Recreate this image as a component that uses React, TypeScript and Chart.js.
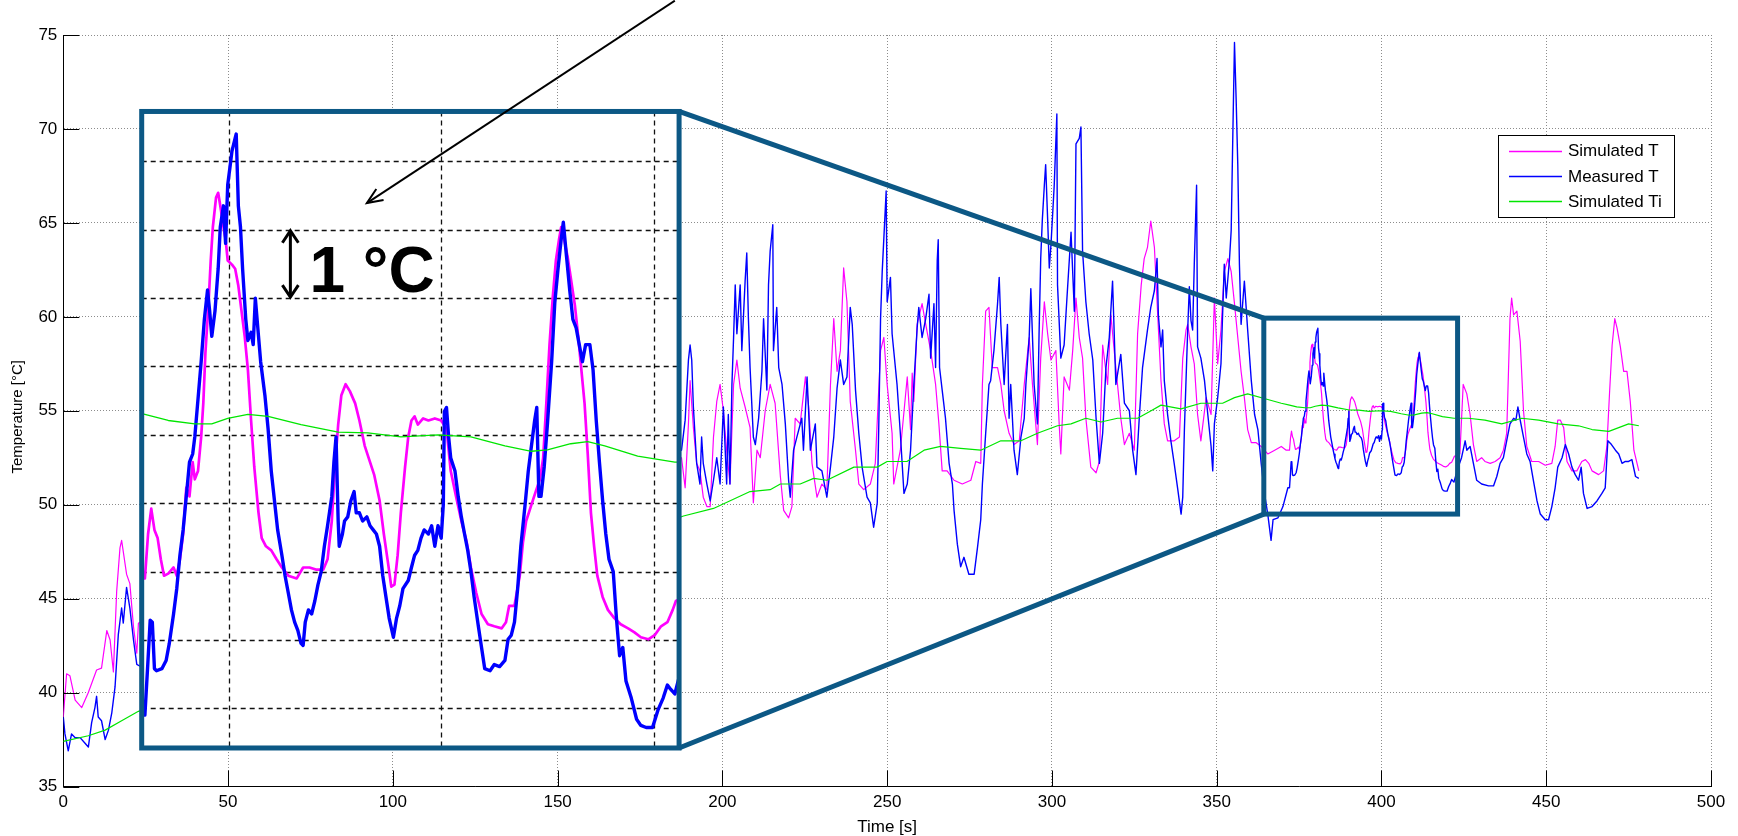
import React, { useEffect, useRef } from 'react';
import { Chart, registerables } from 'chart.js';

Chart.register(...registerables);

type Pt = [number, number];

const FONT = "'Liberation Sans', Arial, Helvetica, sans-serif";

const X_MIN = 0;
const X_MAX = 500;
const X_STEP = 50;
const Y_MIN = 35;
const Y_MAX = 75;
const Y_STEP = 5;
const X_LABEL = 'Time [s]';
const Y_LABEL = 'Temperature [°C]';
const SERIES_NAMES = ['Simulated T', 'Measured T', 'Simulated Ti'];
const SERIES_COLORS = ['#ff00ff', '#0000ff', '#00e600'];

// Simulated T  [time s, °C]
const simulatedT: Pt[] = [
  [0, 38.7], [1.0, 41.0], [2.0, 40.9], [3.6, 39.6], [5.6, 39.2], [7.6, 40.0], [10.1, 41.2], [11.6, 41.3],
  [13.2, 43.3], [14.2, 42.8], [15.2, 41.1], [16.2, 45.4], [17.2, 47.7], [17.7, 48.1], [19.2, 46.3], [20.2, 45.8],
  [21.3, 43.5], [22.3, 42.1], [22.8, 43.7],
  [187.6, 52.5], [188.7, 50.9], [189.7, 54.3], [190.2, 56.6], [191.2, 54.1], [192.2, 52.2], [193.2, 51.8],
  [194.2, 50.4], [195.3, 49.9], [196.3, 49.9], [197.3, 53.6], [198.3, 55.5], [199.3, 56.4], [200.3, 55.0],
  [201.3, 52.9], [202.3, 51.1], [203.4, 56.4], [204.4, 57.7], [205.4, 56.2], [206.9, 55.2], [208.4, 54.1],
  [209.4, 50.1], [210.5, 52.9], [211.5, 52.5], [213, 55.0], [214.5, 56.4], [216, 55.4], [217.6, 51.5],
  [218.6, 49.7], [220.1, 49.3], [221.1, 49.9], [222.1, 54.6], [223.6, 54.3], [225.2, 56.8], [226.2, 55.2],
  [227.2, 52.2], [228.7, 50.4], [230.2, 51.1], [231.7, 50.8], [232.8, 56.4], [233.8, 59.9], [234.8, 57.1],
  [235.8, 58.2], [236.8, 62.6], [237.8, 60.8], [238.8, 55.5], [240.4, 52.9], [241.4, 51.1], [242.9, 50.8],
  [244.9, 51.1], [246.4, 52.2], [248, 58.2], [249, 58.9], [250, 56.4], [251.5, 53.8], [252, 51.1], [254, 52.9],
  [256.1, 56.8], [257.1, 54.0], [257.6, 57.0], [258.1, 55.5], [259.1, 59.6], [260.6, 60.7], [261.7, 59.6],
  [263.2, 58.2], [264.7, 56.4], [265.7, 54.3], [266.7, 51.8], [268.2, 51.8], [270.3, 51.3], [272.8, 51.1],
  [275.4, 51.3], [276.9, 52.3], [278.4, 52.2], [278.9, 56.4], [279.9, 60.3], [280.9, 60.5], [281.9, 57.3],
  [283.5, 57.3], [284.5, 56.4], [285.5, 55.0], [287, 53.8], [288.5, 53.2], [290.1, 53.4], [291.6, 56.4],
  [293.1, 58.9], [294.1, 56.4], [295.6, 53.2], [296.6, 57.8], [297.7, 60.8], [298.7, 59.1], [299.7, 57.7],
  [301.2, 58.2], [302.2, 54.3], [302.7, 52.7], [303.7, 56.8], [305.3, 56.1], [306.3, 58.2], [307.3, 61.0],
  [308.3, 58.9], [309.3, 57.8], [310.3, 54.6], [311.8, 52.0], [313.4, 51.7], [314.4, 52.3], [315.4, 58.5],
  [316.9, 56.4], [317.9, 60.1], [318.9, 58.2], [319.9, 56.4], [320.9, 54.6], [322, 53.2], [323.5, 53.8],
  [325, 52.9], [326, 59.1], [327.1, 61.7], [328, 63.1], [329, 63.7], [330, 65.1], [331.1, 63.7], [332.1, 60.1],
  [333.1, 56.6], [334.1, 54.3], [335.1, 53.4], [337.1, 53.4], [338.7, 53.6], [339.7, 57.8], [340.7, 59.3],
  [341.2, 59.6], [342.2, 58.4], [343.2, 57.5], [344.2, 54.8], [345.2, 53.4], [346.8, 55.7], [348.3, 54.8],
  [349.3, 61.0], [350.3, 57.5], [351.3, 59.3], [352.3, 62.4], [353.4, 63.1], [354.4, 62.4], [355.4, 60.7],
  [356.4, 58.9], [357.4, 57.1], [358.4, 55.7], [359.4, 54.0], [360.5, 53.3], [362, 53.3], [363.5, 53.1],
  [365.5, 52.7], [367.6, 52.9], [369.6, 53.1], [371.1, 52.9],
  [372.1, 52.9], [372.4, 53.55], [372.7, 53.92], [373.0, 53.61], [373.3, 53.49], [373.6, 53.18], [373.9, 52.94],
  [374.3, 52.97], [374.8, 53.06], [375.1, 52.94], [375.4, 53.18], [375.7, 53.55], [376.0, 54.23], [376.3, 54.1],
  [376.6, 54.6], [376.8, 54.35], [377.1, 54.47], [377.4, 54.97], [377.6, 55.46], [377.8, 56.2], [378.1, 56.94],
  [378.3, 57.55], [378.5, 58.04], [378.8, 58.47], [379.0, 58.54], [379.2, 58.35], [379.5, 58.04], [379.7, 57.86],
  [379.9, 57.55], [380.3, 57.49], [380.6, 57.43], [380.9, 57.18], [381.2, 56.81], [381.5, 56.44], [381.8, 55.95],
  [382.1, 55.21], [382.4, 54.53], [382.8, 53.86], [383.1, 53.49], [383.5, 53.37], [384.0, 53.31], [384.5, 53.18],
  [385.0, 53.06], [385.6, 52.94], [386.4, 52.9], [387.0, 53.06], [387.6, 53.06], [388.2, 53.03], [388.9, 53.03],
  [389.3, 53.18], [389.7, 53.74], [390.0, 54.53], [390.3, 55.15], [390.6, 55.58], [391.0, 55.74], [391.4, 55.64],
  [391.9, 55.46], [392.3, 55.21], [392.8, 54.84], [393.3, 54.6], [393.7, 54.41], [394.2, 54.04], [394.6, 53.55],
  [395.0, 53.12], [395.3, 52.78], [395.6, 52.81], [395.9, 53.24], [396.2, 53.86], [396.6, 54.53], [396.9, 54.97],
  [397.2, 55.21], [397.5, 55.27], [397.8, 55.15], [398.3, 55.24], [398.8, 55.21], [399.4, 55.24], [400.0, 55.21],
  [400.5, 55.09], [400.9, 54.47], [401.4, 54.1], [401.9, 53.74], [402.4, 53.43], [402.8, 53.06], [403.3, 52.69],
  [403.8, 52.38], [404.4, 52.23], [405.0, 52.2], [405.7, 52.17], [406.1, 52.26], [406.4, 52.5], [406.9, 52.5],
  [407.4, 52.94], [407.7, 53.43], [408.0, 53.74], [408.5, 53.98], [408.9, 54.17], [409.3, 54.35], [409.6, 54.66],
  [409.9, 55.46], [410.2, 56.32], [410.5, 57.0], [410.8, 57.55], [411.1, 57.86], [411.3, 58.04], [411.5, 57.92],
  [411.9, 57.61], [412.2, 57.3], [412.6, 56.88], [412.9, 56.44], [413.2, 55.95], [413.5, 55.46], [413.8, 54.72],
  [414.1, 53.86], [414.4, 53.37], [414.7, 52.94], [415.2, 52.63], [415.7, 52.44], [416.3, 52.32], [416.9, 52.23],
  [417.6, 52.17], [418.2, 52.11], [418.8, 52.04], [419.5, 52.01], [420.1, 52.07], [420.7, 52.2], [421.3, 52.26],
  [421.8, 52.44], [422.1, 52.57],
  [423.8, 52.7], [424.8, 56.4], [425.9, 55.9], [426.9, 54.8], [427.9, 53.2], [428.9, 52.3], [430.4, 52.5],
  [431.4, 52.3], [433, 52.2], [434.5, 52.3], [436, 52.5], [437, 52.9], [438, 53.8], [438.5, 56.8], [439, 59.9],
  [439.5, 61.0], [440.1, 60.1], [441.1, 60.3], [442.1, 58.7], [443.1, 55.0], [444.1, 53.1], [445.6, 52.3],
  [447.7, 52.3], [449.7, 52.1], [451.7, 52.2], [452.7, 53.1], [453.5, 54.5], [454.3, 54.5], [455.3, 54.1],
  [456.3, 52.3], [457.8, 51.8], [459.3, 51.8], [460.8, 52.3], [461.9, 52.4], [462.9, 52.2], [463.9, 51.8],
  [465.9, 51.6], [467.4, 51.8], [468.4, 53.1], [469.2, 55.9], [470, 58.5], [470.8, 59.9], [471.5, 59.4],
  [472.5, 58.4], [473.5, 57.1], [474.5, 57.1], [475.5, 55.5], [476.6, 52.9], [478.1, 51.8],
];

// Measured T  [time s, °C]
const measuredT: Pt[] = [
  [0, 38.7], [0.5, 37.8], [1.5, 36.9], [2.5, 37.8], [3.6, 37.6], [5.1, 37.6], [6.6, 37.3], [7.6, 37.1],
  [8.6, 38.4], [9.6, 39.2], [10.1, 39.8], [10.6, 38.7], [11.6, 38.5], [12.7, 37.5], [13.7, 38.0], [14.7, 38.9],
  [15.7, 40.3], [16.7, 43.1], [17.7, 44.5], [18.2, 43.7], [19.2, 45.6], [20.2, 44.5], [21.3, 42.8], [22.3, 41.5],
  [23.3, 41.4],
  [187.6, 52.9], [188.7, 54.5], [189.7, 57.7], [190.2, 58.5], [190.7, 57.7], [191.2, 55.2], [192.2, 52.2],
  [193.2, 51.1], [193.7, 53.6], [194.2, 52.2], [195.3, 51.1], [196.3, 50.2], [197.3, 51.3], [198.3, 52.5],
  [199.3, 51.1], [200.3, 55.2], [201.3, 51.1], [201.8, 54.8], [202.3, 51.1], [202.9, 56.4], [203.4, 58.9],
  [203.9, 61.7], [204.4, 59.1], [205.4, 61.7], [205.9, 58.2], [206.9, 61.9], [207.4, 63.4], [207.9, 59.9],
  [208.4, 57.3], [209.4, 53.6], [210, 53.2], [211, 54.6], [212, 57.1], [212.5, 59.9], [213.5, 56.1], [214, 61.7],
  [214.5, 63.5], [215.3, 64.9], [215.5, 58.2], [216.5, 60.5], [217.1, 57.3], [218.1, 56.4], [219.1, 54.3],
  [220.1, 51.3], [220.6, 50.4], [221.6, 52.9], [222.6, 53.6], [224.1, 54.6], [224.6, 52.9], [225.7, 56.8],
  [226.7, 52.9], [228.2, 54.3], [228.7, 52.0], [230.2, 51.8], [231.7, 50.4], [232.8, 52.0], [233.8, 53.6],
  [234.8, 56.2], [235.8, 57.7], [236.8, 56.4], [237.8, 56.8], [238.8, 60.5], [239.4, 59.6], [240.4, 56.1],
  [241.4, 53.8], [242.4, 52.0], [243.9, 50.4], [244.9, 50.1], [245.9, 48.8], [247, 50.1], [247.5, 54.6],
  [248, 59.9], [248.5, 62.4], [249.7, 66.7], [250, 60.8], [251, 62.1], [251.5, 59.1], [253, 56.4], [254, 53.8],
  [255.1, 50.6], [256.1, 51.1], [257.1, 52.9], [258.1, 56.4], [259.1, 59.4], [259.6, 60.5], [260.6, 58.9],
  [261.7, 59.9], [262.7, 61.2], [263.2, 57.8], [264.2, 60.7], [264.7, 57.3], [265.2, 63.0], [265.5, 64.1],
  [265.9, 57.3], [266.7, 56.1], [267.7, 54.6], [268.8, 52.2], [269.8, 51.1], [270.3, 49.7], [271.3, 47.9],
  [272.3, 46.7], [273.3, 47.2], [274.8, 46.3], [276.4, 46.3], [277.4, 47.7], [278.4, 49.2], [278.9, 51.1],
  [279.9, 53.8], [280.9, 56.4], [281.4, 56.6], [282.4, 58.2], [283.5, 60.7], [284, 62.1], [284.5, 59.6],
  [285.5, 56.4], [286.5, 59.6], [287, 54.6], [287.5, 56.4], [288.5, 52.9], [289.5, 51.6], [290.6, 53.6],
  [291.6, 54.6], [292.1, 56.4], [293.1, 58.9], [293.6, 61.5], [294.6, 56.4], [295.6, 54.3], [296.1, 59.1],
  [296.6, 63.1], [297.1, 65.2], [297.7, 67.0], [298.1, 68.1], [298.7, 65.2], [299.2, 62.6], [299.7, 63.8],
  [300.7, 67.0], [301.5, 70.8], [301.7, 61.7], [302.7, 57.8], [303.7, 58.5], [304.7, 61.4], [305.8, 64.5],
  [306.8, 60.3], [307.3, 69.2], [308.3, 69.5], [308.8, 70.1], [309.3, 63.5], [310.3, 60.8], [311.3, 59.1],
  [312.4, 57.7], [313.4, 54.6], [314.4, 52.2], [315.4, 53.8], [316.4, 57.3], [317.4, 58.9], [318.4, 61.9],
  [319.4, 56.4], [320.9, 58.0], [322, 55.4], [323.5, 55.0], [324.5, 52.9], [325.5, 51.6], [326.5, 54.6],
  [327.5, 57.3], [329, 59.3], [330, 60.5], [331.1, 61.4], [331.9, 63.1], [332.3, 60.1], [333.1, 58.4],
  [333.6, 59.3], [334.1, 56.6], [335.1, 54.8], [336.1, 53.4], [337.1, 52.2], [338.2, 50.8], [339.2, 49.5],
  [339.7, 50.4], [340.2, 54.0], [341.2, 59.3], [341.7, 61.6], [342.2, 59.8], [342.7, 59.3], [343.2, 62.8],
  [343.5, 64.6], [343.9, 67.0], [344.2, 58.4], [345.2, 57.8], [346.3, 56.6], [347.3, 54.8], [348.3, 53.1],
  [348.8, 51.8], [349.3, 54.3], [350.3, 55.7], [351.3, 57.5], [352.3, 62.8], [352.9, 61.0], [353.9, 63.1],
  [354.4, 64.6], [354.9, 69.7], [355.4, 74.6], [355.9, 71.6], [356.4, 68.1], [356.9, 62.8], [357.4, 59.6],
  [358.4, 61.9], [359.4, 59.3], [360.5, 56.6], [361.5, 54.8], [362.5, 54.0], [363.5, 52.2], [364.5, 50.6],
  [365.5, 49.5], [366.5, 48.1], [367.1, 49.2], [368.6, 49.3], [370.1, 49.9], [371.6, 50.9],
  [372.1, 50.9], [372.35, 51.58], [372.6, 52.29], [372.8, 52.26], [373.0, 51.58], [373.2, 51.55], [373.7, 51.58],
  [374.1, 51.7], [374.4, 51.95], [374.8, 52.38], [375.1, 52.75], [375.4, 53.24], [375.7, 53.61], [376.0, 54.1],
  [376.3, 54.6], [376.6, 54.72], [376.8, 54.97], [377.1, 55.52], [377.4, 56.07], [377.7, 56.69], [378.0, 57.12],
  [378.2, 56.81], [378.4, 56.44], [378.7, 56.81], [379.0, 57.43], [379.2, 58.04], [379.5, 58.35], [379.7, 57.8],
  [379.9, 58.66], [380.1, 58.9], [380.3, 59.15], [380.6, 59.34], [380.7, 59.4], [380.9, 58.35], [381.1, 58.04],
  [381.3, 57.43], [381.6, 56.69], [381.8, 56.38], [382.1, 56.5], [382.3, 56.32], [382.5, 57.0], [382.8, 56.44],
  [383.0, 56.07], [383.4, 55.58], [383.7, 55.09], [384.0, 54.47], [384.3, 54.04], [384.6, 53.61], [385.0, 53.24],
  [385.3, 52.94], [385.6, 52.69], [385.9, 52.44], [386.2, 52.26], [386.5, 52.14], [386.8, 51.95], [387.0, 51.92],
  [387.2, 52.26], [387.5, 52.44], [387.8, 52.38], [388.1, 52.57], [388.4, 52.81], [388.7, 53.0], [389.0, 53.37],
  [389.3, 53.67], [389.7, 54.1], [389.9, 54.6], [390.1, 54.97], [390.3, 53.74], [390.4, 53.37], [390.7, 53.55],
  [390.9, 53.74], [391.2, 53.8], [391.5, 54.04], [391.8, 54.17], [392.0, 53.86], [392.3, 53.86], [392.6, 53.74],
  [393.0, 53.8], [393.3, 53.67], [393.6, 53.61], [393.9, 53.55], [394.2, 53.37], [394.5, 52.94], [394.8, 52.63],
  [395.1, 52.32], [395.5, 52.04], [395.8, 52.32], [396.1, 52.5], [396.4, 52.75], [396.9, 52.87], [397.2, 53.06],
  [397.5, 53.24], [397.8, 53.31], [398.1, 53.49], [398.4, 53.61], [398.8, 53.55], [399.1, 53.67], [399.4, 53.37],
  [399.7, 53.67], [400.0, 53.49], [400.2, 53.98], [400.3, 55.34], [400.5, 55.4], [400.7, 54.97], [400.9, 54.66],
  [401.3, 54.47], [401.6, 54.1], [401.9, 53.8], [402.2, 53.55], [402.5, 53.31], [402.8, 53.0], [403.1, 52.63],
  [403.5, 52.2], [403.8, 51.89], [404.1, 51.58], [404.6, 51.55], [405.0, 51.64], [405.5, 51.61], [406.0, 51.7],
  [406.3, 52.01], [406.6, 52.07], [406.9, 52.26], [407.2, 52.75], [407.5, 53.37], [407.9, 53.98], [408.2, 54.47],
  [408.5, 54.84], [408.8, 55.21], [409.0, 55.4], [409.2, 54.1], [409.4, 54.1], [409.7, 54.53], [410.0, 55.15],
  [410.4, 56.07], [410.7, 56.94], [411.0, 57.43], [411.3, 57.86], [411.5, 58.11], [411.8, 57.61], [412.1, 57.12],
  [412.4, 56.69], [412.7, 56.57], [413.0, 56.32], [413.3, 56.07], [413.6, 56.32], [414.0, 56.32], [414.3, 55.95],
  [414.6, 55.21], [414.9, 54.6], [415.2, 54.04], [415.5, 53.55], [415.8, 53.18], [416.2, 53.0], [416.5, 52.32],
  [416.8, 51.77], [417.1, 51.89], [417.4, 51.4], [417.9, 51.15], [418.4, 50.84], [418.8, 50.75], [419.3, 50.72],
  [419.9, 50.72], [420.4, 50.97], [420.9, 51.15], [421.3, 51.34], [421.6, 51.28], [422.0, 51.21],
  [423.3, 52.0], [424.3, 52.5], [425.4, 53.4], [425.9, 52.9], [426.9, 53.1], [427.9, 52.2], [428.9, 51.3],
  [430.4, 51.1], [432.5, 51.0], [434, 51.0], [435, 51.5], [436, 52.2], [437, 52.5], [438, 53.4], [439, 54.3],
  [440.1, 54.6], [440.8, 54.5], [441.4, 55.2], [442.1, 54.5], [443.1, 53.6], [444.1, 52.7], [445.1, 52.3],
  [446.1, 51.3], [447.2, 50.2], [448.2, 49.5], [449.7, 49.2], [450.7, 49.2], [451.7, 49.9], [452.7, 50.9],
  [453.5, 52.0], [454.8, 52.5], [455.8, 53.2], [456.8, 52.7], [457.8, 52.0], [458.8, 51.6], [459.8, 51.3],
  [460.6, 52.0], [461.3, 50.6], [462.4, 49.8], [463.9, 49.9], [465.4, 50.2], [466.9, 50.6], [467.9, 50.9],
  [468.7, 53.4], [469.8, 53.2], [471, 52.9], [472, 52.7], [473, 52.2], [474, 52.3], [475, 52.3], [476, 52.4],
  [477.1, 51.5], [478.1, 51.4],
];

// Simulated Ti  [time s, °C]
const simulatedTi: Pt[] = [
  [0, 37.4], [7.6, 37.7], [12.7, 38.0], [17.7, 38.5], [22.8, 39.0],
  [188.2, 49.4], [197.3, 49.8], [208.4, 50.7], [214.5, 50.8], [217.6, 51.1], [223.6, 51.1], [227.7, 51.4],
  [231.7, 51.3], [239.9, 52.0], [247, 52.0], [250, 52.3], [256, 52.3], [261.2, 52.9], [266.2, 53.1],
  [272.3, 53.0], [278.4, 52.9], [284.5, 53.4], [290.6, 53.4], [295.6, 53.8], [301.7, 54.2], [305.8, 54.3],
  [310.3, 54.6], [314.9, 54.4], [319.9, 54.6], [326, 54.6], [330.1, 55.0], [333.1, 55.3], [339.2, 55.1],
  [345.2, 55.4], [351.8, 55.4], [355.4, 55.7], [359.4, 55.9], [365.5, 55.6], [369.6, 55.4],
  [372.1, 55.3], [374.3, 55.21], [376.8, 55.16], [378.4, 55.16], [379.9, 55.24], [381.8, 55.3], [383.7, 55.27],
  [386.8, 55.15], [390.3, 55.04], [393.1, 55.03], [396.2, 54.97], [399.7, 55.0], [402.8, 54.97], [406.0, 54.84],
  [408.5, 54.76], [410.0, 54.78], [412.2, 54.87], [413.8, 54.9], [415.4, 54.84], [418.5, 54.69], [422.0, 54.6],
  [426.4, 54.6], [431.4, 54.5], [436.5, 54.3], [442.6, 54.6], [447.7, 54.5], [453.7, 54.3], [459.8, 54.2],
  [463.9, 54.0], [469, 53.9], [472, 54.1], [475, 54.3], [478.1, 54.2],
];

// Inset (magnified view) geometry, in data units
const INSET_FRAME = { x0: 23.79, x1: 186.86, y0: 37.05, y1: 70.93 }; // where the inset sits (main axes)
const ZOOM_FRAME = { x0: 364.3, x1: 423.1, y0: 49.5, y1: 59.93 }; // zoomed region marked on main axes
const INSET_VIEW = { x0: 371.8, x1: 422.4, y0: 50.42, y1: 59.73 }; // data range shown inside the inset
const INSET_X_GRID = [380, 400, 420];
const INSET_Y_GRID = [51, 52, 53, 54, 55, 56, 57, 58, 59];
const SCALE_BAR = { x: 385.8, from: 57, to: 58 };
const SCALE_TEXT = { x: 387.6, y: 57.09, text: '1 °C' };
const POINTER = { fromX: 422.0, fromY: 61.35, toX: 393.0, toY: 58.39 };

const FRAME_COLOR = '#0c5885';

const kx = (INSET_VIEW.x1 - INSET_VIEW.x0) / (INSET_FRAME.x1 - INSET_FRAME.x0);
const ky = (INSET_VIEW.y1 - INSET_VIEW.y0) / (INSET_FRAME.y1 - INSET_FRAME.y0);
const X2_MIN = INSET_VIEW.x0 - (INSET_FRAME.x0 - X_MIN) * kx;
const X2_MAX = INSET_VIEW.x0 + (X_MAX - INSET_FRAME.x0) * kx;
const Y2_MIN = INSET_VIEW.y0 - (INSET_FRAME.y0 - Y_MIN) * ky;
const Y2_MAX = INSET_VIEW.y0 + (Y_MAX - INSET_FRAME.y0) * ky;

const toXY = (s: Pt[]) => s.map(([x, y]) => ({ x, y }));
function insetSlice(s: Pt[]) {
  let a = s.findIndex((p) => p[0] >= INSET_VIEW.x0);
  let b = -1;
  s.forEach((p, i) => {
    if (p[0] <= INSET_VIEW.x1) b = i;
  });
  a = Math.max(0, a - 1);
  b = Math.min(s.length - 1, b + 1);
  return toXY(s.slice(a, b + 1));
}

function line(ctx: CanvasRenderingContext2D, x1: number, y1: number, x2: number, y2: number) {
  ctx.beginPath();
  ctx.moveTo(x1, y1);
  ctx.lineTo(x2, y2);
  ctx.stroke();
}

function frameRect(chart: any) {
  const { x, y } = chart.scales;
  const l = x.getPixelForValue(INSET_FRAME.x0);
  const r = x.getPixelForValue(INSET_FRAME.x1);
  const t = y.getPixelForValue(INSET_FRAME.y1);
  const b = y.getPixelForValue(INSET_FRAME.y0);
  return { l, r, t, b };
}

const insetPlugin = {
  id: 'insetPlugin',
  beforeDatasetDraw(chart: any, args: any) {
    if (args.index < 3) return;
    const ctx = chart.ctx as CanvasRenderingContext2D;
    const f = frameRect(chart);
    if (args.index === 3) {
      const { x2, y2 } = chart.scales;
      ctx.save();
      ctx.fillStyle = '#ffffff';
      ctx.fillRect(f.l, f.t, f.r - f.l, f.b - f.t);
      ctx.strokeStyle = '#111';
      ctx.lineWidth = 1.3;
      ctx.setLineDash([5, 4]);
      INSET_X_GRID.forEach((v) => {
        const px = Math.round(x2.getPixelForValue(v)) + 0.5;
        line(ctx, px, f.t, px, f.b);
      });
      INSET_Y_GRID.forEach((v) => {
        const py = Math.round(y2.getPixelForValue(v)) + 0.5;
        line(ctx, f.l, py, f.r, py);
      });
      ctx.restore();
    }
    ctx.save();
    ctx.beginPath();
    ctx.rect(f.l, f.t, f.r - f.l, f.b - f.t);
    ctx.clip();
  },
  afterDatasetDraw(chart: any, args: any) {
    if (args.index >= 3) chart.ctx.restore();
  },
  afterDatasetsDraw(chart: any) {
    const ctx = chart.ctx as CanvasRenderingContext2D;
    const { x, y, x2, y2 } = chart.scales;
    const area = chart.chartArea;
    ctx.save();
    ctx.setLineDash([]);

    // inward tick marks
    ctx.strokeStyle = '#000';
    ctx.lineWidth = 1;
    for (let v = X_MIN; v <= X_MAX; v += X_STEP) {
      const px = Math.round(x.getPixelForValue(v)) + 0.5;
      line(ctx, px, area.bottom, px, area.bottom - 16);
    }
    for (let v = Y_MIN; v <= Y_MAX; v += Y_STEP) {
      const py = Math.round(y.getPixelForValue(v)) + 0.5;
      line(ctx, area.left, py, area.left + 16, py);
    }

    // frames and connectors
    const f = frameRect(chart);
    const zl = x.getPixelForValue(ZOOM_FRAME.x0);
    const zr = x.getPixelForValue(ZOOM_FRAME.x1);
    const zt = y.getPixelForValue(ZOOM_FRAME.y1);
    const zb = y.getPixelForValue(ZOOM_FRAME.y0);
    ctx.strokeStyle = FRAME_COLOR;
    ctx.lineWidth = 5;
    ctx.lineJoin = 'miter';
    ctx.strokeRect(f.l, f.t, f.r - f.l, f.b - f.t);
    ctx.strokeRect(zl, zt, zr - zl, zb - zt);
    line(ctx, f.r, f.t, zl, zt);
    line(ctx, f.r, f.b, zl, zb);

    // 1 °C scale bar (double arrow)
    ctx.strokeStyle = '#000';
    ctx.lineWidth = 3;
    const ax = x2.getPixelForValue(SCALE_BAR.x);
    const aTop = y2.getPixelForValue(SCALE_BAR.to);
    const aBot = y2.getPixelForValue(SCALE_BAR.from);
    line(ctx, ax, aTop + 1, ax, aBot - 1);
    ctx.beginPath();
    ctx.moveTo(ax - 8, aTop + 13);
    ctx.lineTo(ax, aTop + 1);
    ctx.lineTo(ax + 8, aTop + 13);
    ctx.stroke();
    ctx.beginPath();
    ctx.moveTo(ax - 8, aBot - 13);
    ctx.lineTo(ax, aBot - 1);
    ctx.lineTo(ax + 8, aBot - 13);
    ctx.stroke();

    ctx.fillStyle = '#000';
    ctx.font = `bold 64px ${FONT}`;
    ctx.textAlign = 'left';
    ctx.textBaseline = 'alphabetic';
    ctx.fillText(SCALE_TEXT.text, x2.getPixelForValue(SCALE_TEXT.x), y2.getPixelForValue(SCALE_TEXT.y));

    // pointer arrow
    const px0 = x2.getPixelForValue(POINTER.fromX);
    const py0 = y2.getPixelForValue(POINTER.fromY);
    const px1 = x2.getPixelForValue(POINTER.toX);
    const py1 = y2.getPixelForValue(POINTER.toY);
    ctx.lineWidth = 2;
    line(ctx, px0, py0, px1, py1);
    const ang = Math.atan2(py1 - py0, px1 - px0);
    ctx.beginPath();
    ctx.moveTo(px1 - 17 * Math.cos(ang - 0.4), py1 - 17 * Math.sin(ang - 0.4));
    ctx.lineTo(px1, py1);
    ctx.lineTo(px1 - 17 * Math.cos(ang + 0.4), py1 - 17 * Math.sin(ang + 0.4));
    ctx.stroke();

    // legend
    const lx = 1498.5, ly = 135.5, lw = 176, lh = 82;
    ctx.fillStyle = '#fff';
    ctx.fillRect(lx, ly, lw, lh);
    ctx.strokeStyle = '#000';
    ctx.lineWidth = 1;
    ctx.strokeRect(lx, ly, lw, lh);
    ctx.font = `17px ${FONT}`;
    ctx.textBaseline = 'middle';
    const rows = [150.7, 176, 201.3];
    SERIES_NAMES.forEach((name, i) => {
      ctx.strokeStyle = SERIES_COLORS[i];
      ctx.lineWidth = 1.3;
      line(ctx, 1509, Math.round(rows[i]) + 0.5, 1562, Math.round(rows[i]) + 0.5);
      ctx.fillStyle = '#000';
      ctx.fillText(name, 1568, rows[i] + 1);
    });

    // axis titles
    ctx.fillStyle = '#000';
    ctx.textBaseline = 'alphabetic';
    ctx.textAlign = 'center';
    ctx.font = `17px ${FONT}`;
    ctx.fillText(X_LABEL, (area.left + area.right) / 2, 832);
    ctx.save();
    ctx.translate(22, (area.top + area.bottom) / 2 + 6);
    ctx.rotate(-Math.PI / 2);
    ctx.font = `15px ${FONT}`;
    ctx.fillText(Y_LABEL, 0, 0);
    ctx.restore();

    ctx.restore();
  },
};

export default function App() {
  const ref = useRef<HTMLCanvasElement | null>(null);

  useEffect(() => {
    const canvas = ref.current;
    if (!canvas) return;
    Chart.defaults.font.family = FONT;
    const gridColor = '#8c8c8c';
    const chart = new Chart(canvas, {
      type: 'line',
      data: {
        datasets: [
          { label: SERIES_NAMES[0], data: toXY(simulatedT), borderColor: SERIES_COLORS[0], borderWidth: 1.2, order: 12 },
          { label: SERIES_NAMES[1], data: toXY(measuredT), borderColor: SERIES_COLORS[1], borderWidth: 1.4, order: 11 },
          { label: SERIES_NAMES[2], data: toXY(simulatedTi), borderColor: SERIES_COLORS[2], borderWidth: 1.2, order: 10 },
          { label: 'inset-sim', data: insetSlice(simulatedT), borderColor: SERIES_COLORS[0], borderWidth: 2.7, order: 2, xAxisID: 'x2', yAxisID: 'y2' },
          { label: 'inset-meas', data: insetSlice(measuredT), borderColor: SERIES_COLORS[1], borderWidth: 3.4, order: 1, xAxisID: 'x2', yAxisID: 'y2' },
          { label: 'inset-ti', data: insetSlice(simulatedTi), borderColor: SERIES_COLORS[2], borderWidth: 1.3, order: 0, xAxisID: 'x2', yAxisID: 'y2' },
        ] as any,
      },
      options: {
        animation: false,
        responsive: true,
        maintainAspectRatio: false,
        events: [],
        elements: {
          point: { radius: 0 },
          line: { tension: 0, fill: false, borderJoinStyle: 'round' },
        },
        layout: { padding: { top: 35, right: 27, left: 0, bottom: 0 } },
        plugins: { legend: { display: false }, tooltip: { enabled: false }, title: { display: false } },
        scales: {
          x: {
            type: 'linear',
            min: X_MIN,
            max: X_MAX,
            position: 'bottom',
            afterFit: (s: any) => { s.height = 49.5; },
            ticks: { stepSize: X_STEP, color: '#000', font: { size: 17 }, padding: 6, maxRotation: 0, autoSkip: false },
            grid: { color: gridColor, lineWidth: 1, drawTicks: false },
            border: { display: true, color: '#000', width: 1, dash: [1, 2] },
          },
          y: {
            type: 'linear',
            min: Y_MIN,
            max: Y_MAX,
            position: 'left',
            afterFit: (s: any) => { s.width = 63.3; },
            ticks: { stepSize: Y_STEP, color: '#000', font: { size: 17 }, padding: 6 },
            grid: { color: gridColor, lineWidth: 1, drawTicks: false },
            border: { display: true, color: '#000', width: 1, dash: [1, 2] },
          },
          x2: { type: 'linear', display: false, min: X2_MIN, max: X2_MAX, grid: { display: false } },
          y2: { type: 'linear', display: false, min: Y2_MIN, max: Y2_MAX, grid: { display: false } },
        },
      } as any,
      plugins: [insetPlugin as any],
    });
    return () => chart.destroy();
  }, []);

  return (
    <div style={{ position: 'absolute', left: 0, top: 0, width: 1738, height: 836, background: '#fff' }}>
      <canvas ref={ref} />
    </div>
  );
}
